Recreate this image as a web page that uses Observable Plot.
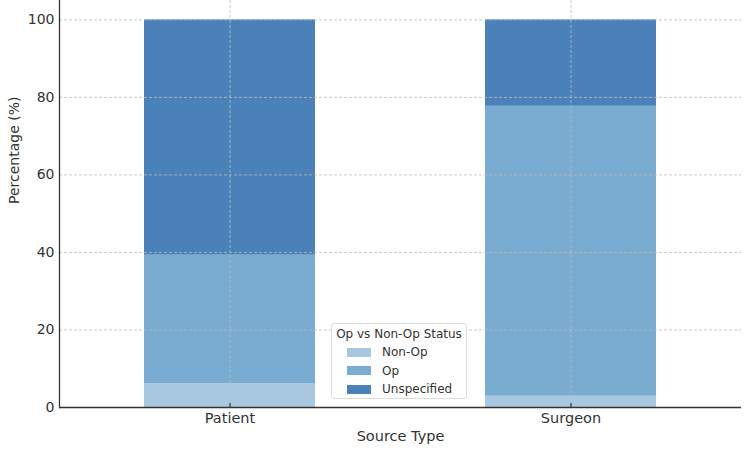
<!DOCTYPE html>
<html><head><meta charset="utf-8">
<script src="https://cdn.jsdelivr.net/npm/d3@7"></script>
<script src="https://cdn.jsdelivr.net/npm/@observablehq/plot@0.6"></script>
<style>
body{margin:0;background:#fff;font-family:"DejaVu Sans",sans-serif;}
#wrap{position:relative;width:750px;height:452px;}
#legend{position:absolute;left:331px;top:323px;width:136px;height:76px;border:1px solid #ddd;border-radius:3px;background:rgba(255,255,255,0.85);font-size:12px;color:#333;box-sizing:border-box;}
#legend .t{position:absolute;left:0;width:100%;text-align:center;top:3px;}
#legend .r{position:absolute;left:15px;height:16px;display:flex;align-items:center;}
#legend .s{width:24px;height:9px;margin-right:11px;}
</style></head><body>
<div id="wrap"></div>
<script>
const categories = ["Patient", "Surgeon"];
const statuses = ["Non-Op", "Op", "Unspecified"];
const nonOp = [6.1, 2.9];
const op = [33.2, 74.8];
const unspecified = [60.7, 22.3];
const yTicks = [0, 20, 40, 60, 80, 100];
const colors = ["#a8c8e1", "#7aabd1", "#4a81b8"];

const series = [nonOp, op, unspecified];
const data = [];
categories.forEach((c, i) => statuses.forEach((s, j) => data.push({source: c, status: s, value: series[j][i]})));

const chart = Plot.plot({
  width: 750, height: 452,
  marginLeft: 59, marginRight: 9, marginTop: 0, marginBottom: 45,
  style: {fontFamily: "DejaVu Sans, sans-serif", fontSize: "13px", color: "#333"},
  x: {domain: categories, paddingInner: 0.5, paddingOuter: 0.25, label: null},
  y: {domain: [0, 105], label: null},
  color: {domain: statuses, range: colors},
  marks: [
    Plot.barY(data, Plot.stackY({x: "source", y: "value", fill: "status", order: statuses})),
    Plot.gridX({stroke: "#bbb", strokeOpacity: 0.8, strokeDasharray: "3,2"}),
    Plot.gridY(yTicks, {stroke: "#bbb", strokeOpacity: 0.8, strokeDasharray: "3,2"}),
    Plot.axisX({tickSize: 0, tickPadding: 5, fontSize: 14.5, label: null}),
    Plot.axisY(yTicks, {tickSize: 0, tickPadding: 5, fontSize: 14, label: null}),
    Plot.ruleX(categories, {x: d => d, y1: 0, y2: 1, stroke: "#333", strokeWidth: 1.2}),
    Plot.ruleY([0], {stroke: "#333", strokeWidth: 1.3}),
    Plot.frame({anchor: "left", stroke: "#333", strokeWidth: 1.3}),
    Plot.text(["Source Type"], {frameAnchor: "bottom", dy: 33, fontSize: 14.5, fill: "#333"}),
    Plot.text(["Percentage (%)"], {frameAnchor: "left", dx: -45, rotate: -90, fontSize: 14, fill: "#333"})
  ]
});
document.getElementById("wrap").appendChild(chart);

const lg = document.createElement("div");
lg.id = "legend";
lg.innerHTML = `<div class="t">Op vs Non-Op Status</div>` +
  statuses.map((s, i) => `<div class="r" style="top:${20 + i*18.5}px"><div class="s" style="background:${colors[i]}"></div>${s}</div>`).join("");
document.getElementById("wrap").appendChild(lg);
</script>
</body></html>
